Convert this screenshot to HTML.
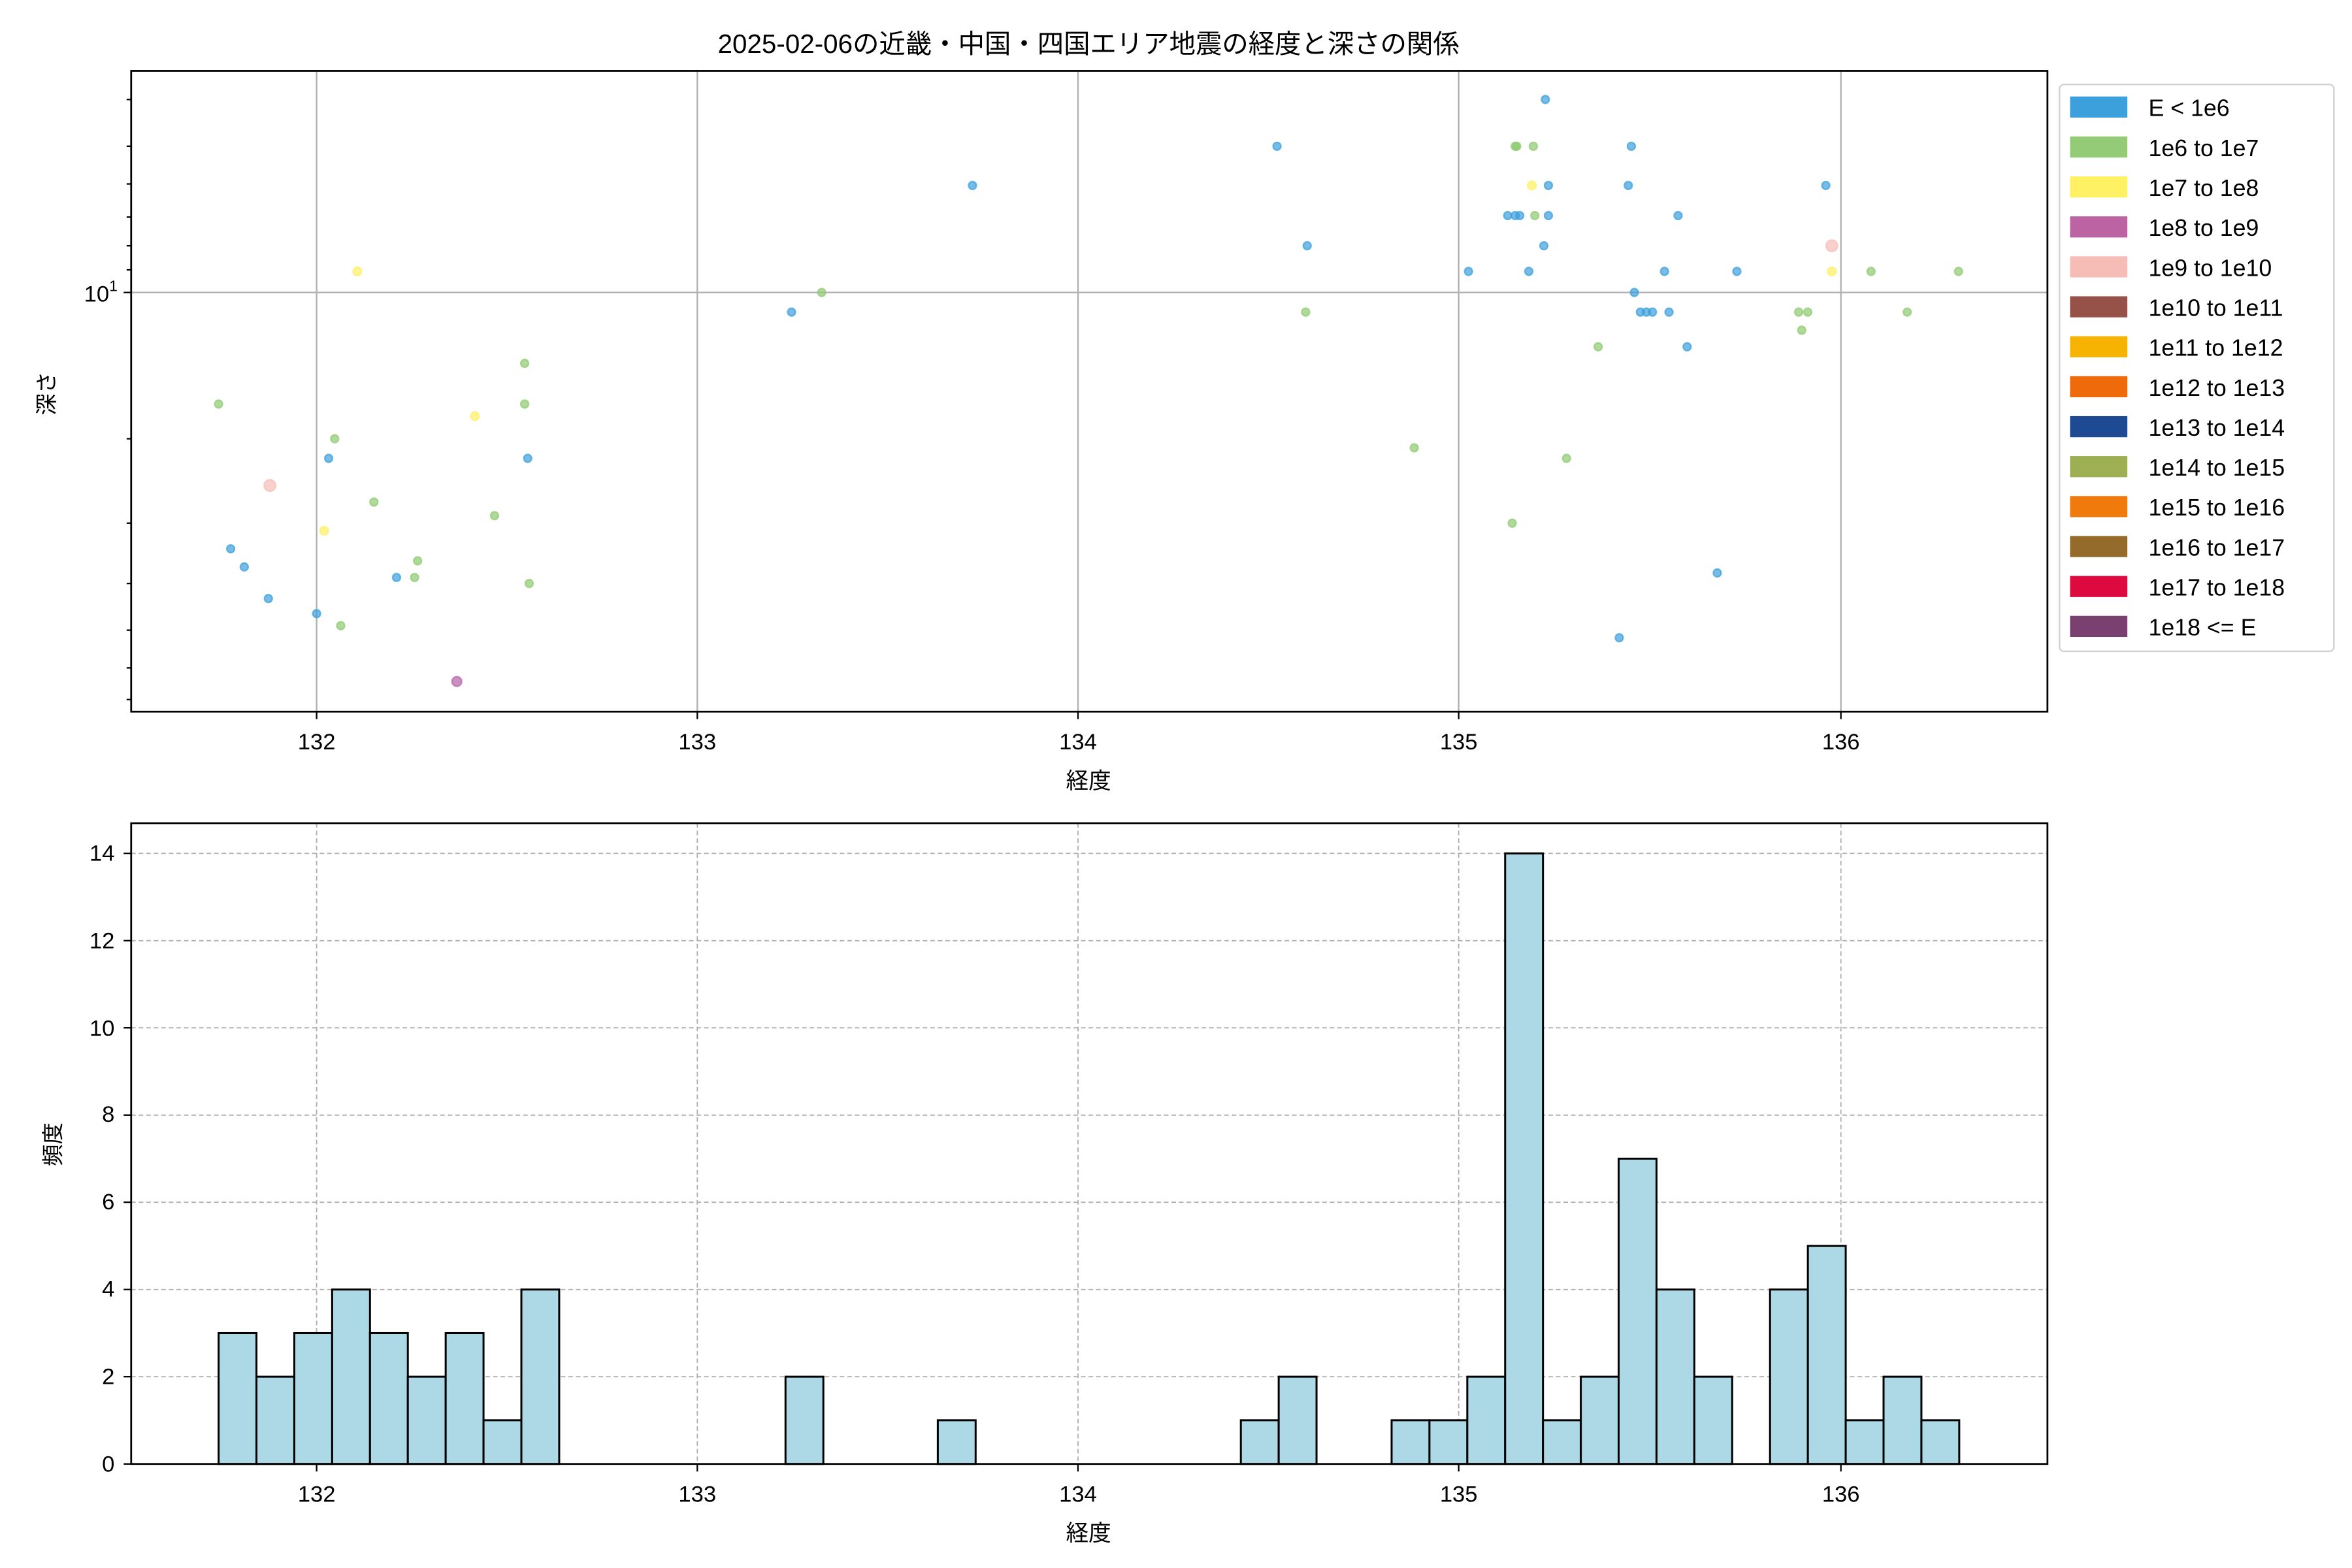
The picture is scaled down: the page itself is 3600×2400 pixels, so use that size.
<!DOCTYPE html>
<html><head><meta charset="utf-8"><style>html,body{margin:0;padding:0;background:#fff}svg{display:block}text{font-family:"Liberation Sans","Noto Sans CJK JP",sans-serif;fill:#000}</style></head>
<body>
<svg width="3600" height="2400" viewBox="0 0 1560 1040" xmlns="http://www.w3.org/2000/svg">
<rect width="1560" height="1040" fill="#fff"/>
<text x="722" y="35" font-size="17.5" text-anchor="middle">2025-02-06の近畿・中国・四国エリア地震の経度と深さの関係</text>
<g stroke="#b0b0b0" stroke-width="1">
<line x1="210" y1="47" x2="210" y2="472"/><line x1="462.5" y1="47" x2="462.5" y2="472"/><line x1="715" y1="47" x2="715" y2="472"/><line x1="967.5" y1="47" x2="967.5" y2="472"/><line x1="1221" y1="47" x2="1221" y2="472"/>
<line x1="87" y1="194" x2="1358" y2="194"/>
</g>
<g stroke-width="1" fill-opacity="0.7" stroke-opacity="0.7">
<g fill="#3ca0dc" stroke="#3ca0dc">
<circle cx="153" cy="364" r="2.6"/><circle cx="162" cy="376" r="2.6"/><circle cx="178" cy="397" r="2.6"/><circle cx="210" cy="407" r="2.6"/><circle cx="218" cy="304" r="2.6"/><circle cx="263" cy="383" r="2.6"/><circle cx="350" cy="304" r="2.6"/>
<circle cx="525" cy="207" r="2.6"/><circle cx="645" cy="123" r="2.6"/><circle cx="847" cy="97" r="2.6"/><circle cx="867" cy="163" r="2.6"/>
<circle cx="1025" cy="66" r="2.6"/><circle cx="1082" cy="97" r="2.6"/><circle cx="1027" cy="123" r="2.6"/><circle cx="1080" cy="123" r="2.6"/><circle cx="1211" cy="123" r="2.6"/><circle cx="1000" cy="143" r="2.6"/><circle cx="1005" cy="143" r="2.6"/><circle cx="1008" cy="143" r="2.6"/><circle cx="1027" cy="143" r="2.6"/><circle cx="1113" cy="143" r="2.6"/><circle cx="1024" cy="163" r="2.6"/><circle cx="974" cy="180" r="2.6"/><circle cx="1014" cy="180" r="2.6"/><circle cx="1104" cy="180" r="2.6"/><circle cx="1152" cy="180" r="2.6"/><circle cx="1084" cy="194" r="2.6"/><circle cx="1088" cy="207" r="2.6"/><circle cx="1092" cy="207" r="2.6"/><circle cx="1096" cy="207" r="2.6"/><circle cx="1107" cy="207" r="2.6"/><circle cx="1119" cy="230" r="2.6"/><circle cx="1139" cy="380" r="2.6"/><circle cx="1074" cy="423" r="2.6"/>
</g>
<g fill="#8fcb70" stroke="#8fcb70">
<circle cx="145" cy="268" r="2.6"/><circle cx="222" cy="291" r="2.6"/><circle cx="226" cy="415" r="2.6"/><circle cx="248" cy="333" r="2.6"/><circle cx="275" cy="383" r="2.6"/><circle cx="277" cy="372" r="2.6"/><circle cx="328" cy="342" r="2.6"/><circle cx="348" cy="241" r="2.6"/><circle cx="348" cy="268" r="2.6"/><circle cx="351" cy="387" r="2.6"/>
<circle cx="545" cy="194" r="2.6"/><circle cx="866" cy="207" r="2.6"/><circle cx="938" cy="297" r="2.6"/>
<circle cx="1005" cy="97" r="2.6"/><circle cx="1006" cy="97" r="2.6"/><circle cx="1017" cy="97" r="2.6"/><circle cx="1018" cy="143" r="2.6"/><circle cx="1241" cy="180" r="2.6"/><circle cx="1299" cy="180" r="2.6"/><circle cx="1193" cy="207" r="2.6"/><circle cx="1199" cy="207" r="2.6"/><circle cx="1265" cy="207" r="2.6"/><circle cx="1195" cy="219" r="2.6"/><circle cx="1060" cy="230" r="2.6"/><circle cx="1039" cy="304" r="2.6"/><circle cx="1003" cy="347" r="2.6"/>
</g>
<g fill="#fff064" stroke="#fff064">
<circle cx="237" cy="180" r="2.8"/><circle cx="215" cy="352" r="2.8"/><circle cx="315" cy="276" r="2.8"/><circle cx="1016" cy="123" r="2.8"/><circle cx="1215" cy="180" r="2.8"/>
</g>
<g fill="#b660a8" stroke="#b660a8"><circle cx="303" cy="452" r="3.2"/></g>
<g fill="#f6bcb6" stroke="#f6bcb6"><circle cx="179" cy="322" r="3.8"/><circle cx="1215" cy="163" r="3.8"/></g>
</g>
<rect x="87" y="47" width="1271" height="425" fill="none" stroke="#000" stroke-width="1.2"/>
<g stroke="#000" stroke-width="1">
<line x1="210" y1="472" x2="210" y2="477"/><line x1="462.5" y1="472" x2="462.5" y2="477"/><line x1="715" y1="472" x2="715" y2="477"/><line x1="967.5" y1="472" x2="967.5" y2="477"/><line x1="1221" y1="472" x2="1221" y2="477"/>
<line x1="82" y1="194" x2="87" y2="194"/>
<line x1="84" y1="66" x2="87" y2="66"/><line x1="84" y1="97" x2="87" y2="97"/><line x1="84" y1="122" x2="87" y2="122"/><line x1="84" y1="144" x2="87" y2="144"/><line x1="84" y1="163" x2="87" y2="163"/><line x1="84" y1="179" x2="87" y2="179"/>
<line x1="84" y1="291" x2="87" y2="291"/><line x1="84" y1="347" x2="87" y2="347"/><line x1="84" y1="387" x2="87" y2="387"/><line x1="84" y1="418" x2="87" y2="418"/><line x1="84" y1="443" x2="87" y2="443"/><line x1="84" y1="464" x2="87" y2="464"/>
</g>
<g font-size="15" text-anchor="middle">
<text x="210" y="497">132</text><text x="462.5" y="497">133</text><text x="715" y="497">134</text><text x="967.5" y="497">135</text><text x="1221" y="497">136</text>
<text x="722" y="523">経度</text>
</g>
<text x="78" y="200" font-size="15" text-anchor="end">10<tspan font-size="10" dy="-7">1</tspan></text>
<text transform="translate(36,261) rotate(-90)" font-size="14.5" text-anchor="middle">深さ</text>
<rect x="1366" y="56" width="182" height="376" rx="3" fill="#fff" stroke="#d0d0d0" stroke-width="1"/>
<g font-size="15.5">
<rect x="1373" y="64" width="38" height="14" fill="#3ca0dc"/><text x="1425" y="77">E &lt; 1e6</text>
<rect x="1373" y="90.5" width="38" height="14" fill="#94cb76"/><text x="1425" y="103.5">1e6 to 1e7</text>
<rect x="1373" y="117" width="38" height="14" fill="#fff064"/><text x="1425" y="130">1e7 to 1e8</text>
<rect x="1373" y="143.5" width="38" height="14" fill="#bb63a3"/><text x="1425" y="156.5">1e8 to 1e9</text>
<rect x="1373" y="170" width="38" height="14" fill="#f6bcb6"/><text x="1425" y="183">1e9 to 1e10</text>
<rect x="1373" y="196.5" width="38" height="14" fill="#965249"/><text x="1425" y="209.5">1e10 to 1e11</text>
<rect x="1373" y="223" width="38" height="14" fill="#f6b302"/><text x="1425" y="236">1e11 to 1e12</text>
<rect x="1373" y="249.5" width="38" height="14" fill="#ef6a0a"/><text x="1425" y="262.5">1e12 to 1e13</text>
<rect x="1373" y="276" width="38" height="14" fill="#1e4a93"/><text x="1425" y="289">1e13 to 1e14</text>
<rect x="1373" y="302.5" width="38" height="14" fill="#9eae52"/><text x="1425" y="315.5">1e14 to 1e15</text>
<rect x="1373" y="329" width="38" height="14" fill="#f07b0c"/><text x="1425" y="342">1e15 to 1e16</text>
<rect x="1373" y="355.5" width="38" height="14" fill="#946b2b"/><text x="1425" y="368.5">1e16 to 1e17</text>
<rect x="1373" y="382" width="38" height="14" fill="#dc0a3e"/><text x="1425" y="395">1e17 to 1e18</text>
<rect x="1373" y="408.5" width="38" height="14" fill="#7a4170"/><text x="1425" y="421.5">1e18 &lt;= E</text>
</g>
<g stroke="#b0b0b0" stroke-width="0.8" stroke-dasharray="3,2">
<line x1="210" y1="546" x2="210" y2="971"/><line x1="462.5" y1="546" x2="462.5" y2="971"/><line x1="715" y1="546" x2="715" y2="971"/><line x1="967.5" y1="546" x2="967.5" y2="971"/><line x1="1221" y1="546" x2="1221" y2="971"/>
<line x1="87" y1="913.1" x2="1358" y2="913.1"/><line x1="87" y1="855.3" x2="1358" y2="855.3"/><line x1="87" y1="797.4" x2="1358" y2="797.4"/><line x1="87" y1="739.6" x2="1358" y2="739.6"/><line x1="87" y1="681.7" x2="1358" y2="681.7"/><line x1="87" y1="623.9" x2="1358" y2="623.9"/><line x1="87" y1="566" x2="1358" y2="566"/>
</g>
<g fill="#add8e6" stroke="#000" stroke-width="1.3">
<rect x="145" y="884.2" width="25.1" height="86.8"/><rect x="170.1" y="913.1" width="25.1" height="57.9"/><rect x="195.2" y="884.2" width="25.1" height="86.8"/><rect x="220.3" y="855.3" width="25.1" height="115.7"/><rect x="245.4" y="884.2" width="25.1" height="86.8"/><rect x="270.5" y="913.1" width="25.1" height="57.9"/><rect x="295.6" y="884.2" width="25.1" height="86.8"/><rect x="320.7" y="942" width="25.1" height="29"/><rect x="345.8" y="855.3" width="25.1" height="115.7"/>
<rect x="521" y="913.1" width="25.1" height="57.9"/><rect x="622" y="942" width="25.1" height="29"/>
<rect x="823" y="942" width="25.1" height="29"/><rect x="848.1" y="913.1" width="25.1" height="57.9"/>
<rect x="923" y="942" width="25.1" height="29"/><rect x="948.1" y="942" width="25.1" height="29"/><rect x="973.2" y="913.1" width="25.1" height="57.9"/><rect x="998.3" y="566" width="25.1" height="405"/><rect x="1023.4" y="942" width="25.1" height="29"/><rect x="1048.5" y="913.1" width="25.1" height="57.9"/><rect x="1073.6" y="768.5" width="25.1" height="202.5"/><rect x="1098.7" y="855.3" width="25.1" height="115.7"/><rect x="1123.8" y="913.1" width="25.1" height="57.9"/>
<rect x="1174" y="855.3" width="25.1" height="115.7"/><rect x="1199.1" y="826.4" width="25.1" height="144.6"/><rect x="1224.2" y="942" width="25.1" height="29"/><rect x="1249.3" y="913.1" width="25.1" height="57.9"/><rect x="1274.4" y="942" width="25.1" height="29"/>
</g>
<rect x="87" y="546" width="1271" height="425" fill="none" stroke="#000" stroke-width="1.2"/>
<g stroke="#000" stroke-width="1">
<line x1="210" y1="971" x2="210" y2="976"/><line x1="462.5" y1="971" x2="462.5" y2="976"/><line x1="715" y1="971" x2="715" y2="976"/><line x1="967.5" y1="971" x2="967.5" y2="976"/><line x1="1221" y1="971" x2="1221" y2="976"/>
<line x1="82" y1="971" x2="87" y2="971"/><line x1="82" y1="913.1" x2="87" y2="913.1"/><line x1="82" y1="855.3" x2="87" y2="855.3"/><line x1="82" y1="797.4" x2="87" y2="797.4"/><line x1="82" y1="739.6" x2="87" y2="739.6"/><line x1="82" y1="681.7" x2="87" y2="681.7"/><line x1="82" y1="623.9" x2="87" y2="623.9"/><line x1="82" y1="566" x2="87" y2="566"/>
</g>
<g font-size="15" text-anchor="middle">
<text x="210" y="996">132</text><text x="462.5" y="996">133</text><text x="715" y="996">134</text><text x="967.5" y="996">135</text><text x="1221" y="996">136</text>
<text x="722" y="1022">経度</text>
</g>
<g font-size="15" text-anchor="end">
<text x="76" y="976">0</text><text x="76" y="918">2</text><text x="76" y="860">4</text><text x="76" y="802">6</text><text x="76" y="744">8</text><text x="76" y="687">10</text><text x="76" y="629">12</text><text x="76" y="571">14</text>
</g>
<text transform="translate(40,759) rotate(-90)" font-size="14.5" text-anchor="middle">頻度</text>
</svg>
</body></html>
